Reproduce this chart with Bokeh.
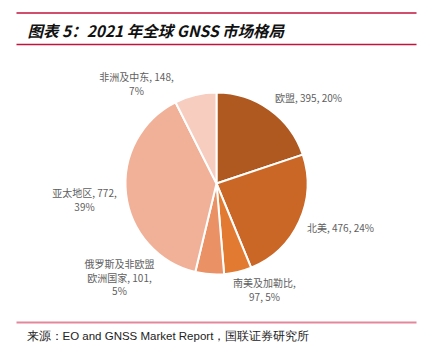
import math
from bokeh.plotting import figure
from bokeh.models import Range1d, ColumnDataSource
from bokeh.core.properties import value
from bokeh.embed import file_html
from bokeh.resources import INLINE

# ---- data ----
regions = ["欧盟", "北美", "南美及加勒比", "俄罗斯及非欧盟欧洲国家", "亚太地区", "非洲及中东"]
market = [395, 476, 97, 101, 772, 148]
shares = ["20%", "24%", "5%", "5%", "39%", "7%"]
label_lines = [
    ["欧盟, 395, 20%"],
    ["北美, 476, 24%"],
    ["南美及加勒比,", "97, 5%"],
    ["俄罗斯及非欧盟", "欧洲国家, 101,", "5%"],
    ["亚太地区, 772,", "39%"],
    ["非洲及中东, 148,", "7%"],
]
title = "图表 5：2021 年全球 GNSS 市场格局"
source_note = "来源：EO and GNSS Market Report，国联证券研究所"

# ---- style / layout ----
W, H = 433, 352
colors = ["#AF5820", "#CB6726", "#E27A31", "#EB9166", "#F0B198", "#F6CDBF"]
label_pos = [(308, 97), (340, 227), (264, 282), (119, 263), (84, 192), (136, 76)]
cx, cy, R = 216, 183, 91
CJK = "Noto Sans CJK SC"

def Y(py):
    return H - py

p = figure(width=W, height=H, output_backend="svg", toolbar_location=None,
           x_range=Range1d(0, W), y_range=Range1d(0, H), min_border=0)
p.axis.visible = False
p.grid.visible = False
p.outline_line_color = None
p.background_fill_color = "white"

# pie
total = sum(market)
starts, ends = [], []
acc = 0.0
for v in market:
    a0 = math.pi / 2 - 2 * math.pi * acc / total
    acc += v
    a1 = math.pi / 2 - 2 * math.pi * acc / total
    starts.append(a0)
    ends.append(a1)
src = ColumnDataSource(dict(start=starts, end=ends, color=colors))
p.wedge(x=cx, y=Y(cy), radius=R, start_angle="start", end_angle="end",
        direction="clock", fill_color="color", line_color="white", line_width=2, source=src)

# labels
for lines, (lx, ly) in zip(label_lines, label_pos):
    for i, ln in enumerate(lines):
        p.text(x=[lx], y=[Y(ly + i * 13.5)], text=[ln], text_font=value(CJK),
               text_font_size="10px", text_color="#606060",
               text_align="center", text_baseline="middle")

# header / footer rules
p.segment(x0=[16, 16], y0=[Y(12.5), Y(44)], x1=[416, 416], y1=[Y(12.5), Y(44)],
          line_color="#C0143C", line_width=1.3)
p.segment(x0=[16], y0=[Y(322)], x1=[416], y1=[Y(322)], line_color="#E4879B", line_width=2)

p.text(x=[27], y=[Y(29)], text=[title], text_font=value(CJK), text_font_size="15.5px",
       text_font_style="bold italic", text_color="#111111",
       text_align="left", text_baseline="middle")
p.text(x=[26], y=[Y(335)], text=[source_note], text_font=value("Liberation Sans"),
       text_font_size="11.5px", text_color="#222222",
       text_align="left", text_baseline="middle")

open("out.html", "w").write(file_html(p, INLINE))
